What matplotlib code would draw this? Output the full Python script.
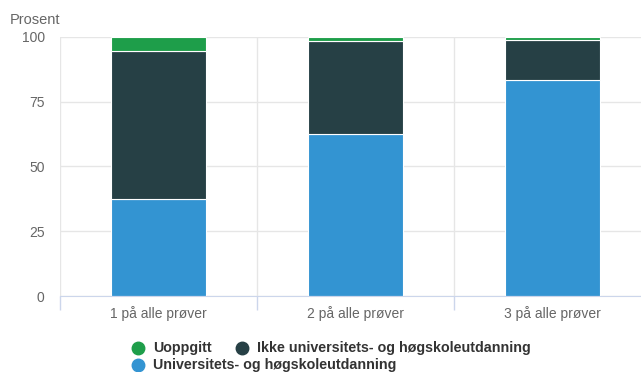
import matplotlib.pyplot as plt
from matplotlib.lines import Line2D

plt.rcParams['font.family'] = ['Liberation Sans', 'DejaVu Sans']

categories = ['1 på alle prøver', '2 på alle prøver', '3 på alle prøver']
series_names = ['Uoppgitt', 'Ikke universitets- og høgskoleutdanning',
                'Universitets- og høgskoleutdanning']
uni = [37.4, 62.5, 83.4]
ikke_uni = [57.2, 36.0, 15.6]
uoppgitt = [5.4, 1.5, 1.0]

colors = {'Uoppgitt': '#1e9e4a',
          'Ikke universitets- og høgskoleutdanning': '#264045',
          'Universitets- og høgskoleutdanning': '#3394d2'}

W, H = 641, 372
fig = plt.figure(figsize=(W / 100, H / 100), dpi=100)
ax = fig.add_axes([60 / W, 1 - 296 / H, 591 / W, 259 / H])

x = range(len(categories))
w = 0.48
ax.bar(x, uni, w, color=colors[series_names[2]], edgecolor='white', linewidth=0.8, zorder=3)
ax.bar(x, ikke_uni, w, bottom=uni, color=colors[series_names[1]],
       edgecolor='white', linewidth=0.8, zorder=3)
bottom2 = [a + b for a, b in zip(uni, ikke_uni)]
ax.bar(x, uoppgitt, w, bottom=bottom2, color=colors[series_names[0]],
       edgecolor='white', linewidth=0.8, zorder=3)

ax.set_xlim(-0.5, 2.5)
ax.set_ylim(0, 100)
ax.set_yticks([0, 25, 50, 75, 100])
ax.set_xticks(list(x))
ax.set_xticklabels(categories)
ax.set_xticks([-0.5, 0.5, 1.5, 2.5], minor=True)

ax.tick_params(axis='y', length=0, pad=11, labelsize=10, labelcolor='#666666')
ax.tick_params(axis='x', which='major', length=0, pad=7, labelsize=10, labelcolor='#666666')
ax.tick_params(axis='x', which='minor', length=10, width=1, color='#ccd6eb')

ax.grid(axis='y', color='#e6e6e6', linewidth=1, zorder=0)
ax.grid(axis='x', which='minor', color='#e6e6e6', linewidth=1, zorder=0)
for s in ['top', 'right', 'left']:
    ax.spines[s].set_visible(False)
ax.spines['bottom'].set_color('#ccd6eb')
ax.spines['bottom'].set_zorder(4)

fig.text(10 / W, 1 - 20 / H, 'Prosent', fontsize=10.5, color='#666666',
         va='center', ha='left')

# legend entries: marker centre and text start in pixels
legend_items = [(series_names[0], 138, 153, 348),
                (series_names[1], 242, 257, 348),
                (series_names[2], 138, 153, 365)]
for name, mx, tx, y in legend_items:
    fig.add_artist(Line2D([mx / W], [1 - y / H], marker='o', markersize=9,
                          color=colors[name], linestyle='none',
                          transform=fig.transFigure))
    fig.text(tx / W, 1 - y / H, name, fontsize=10.3, fontweight='bold',
             color='#333333', va='center', ha='left')

fig.savefig('out.png', dpi=100)
